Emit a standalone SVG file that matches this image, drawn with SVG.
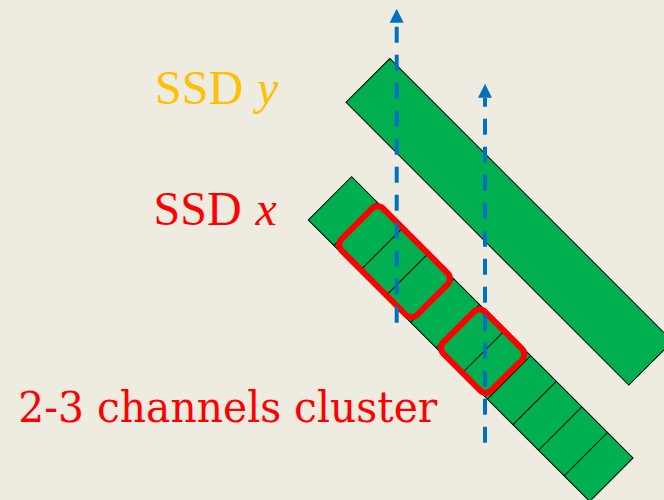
<svg xmlns="http://www.w3.org/2000/svg" width="664" height="500" viewBox="0 0 664 500">
  <defs>
    <style>
      .ssd { fill: #00B050; stroke: #000000; stroke-width: 1; }
      .div { stroke: #000000; stroke-width: 1; fill: none; }
      .cluster { fill: none; stroke: #FF0000; stroke-width: 6; }
      .flow { stroke: #0070C0; stroke-width: 4; stroke-dasharray: 16 12; fill: none; }
      .lbl { font-family: "Liberation Serif", "Times New Roman", serif; font-size: 48px; }
    </style>
    <marker id="arrow" markerUnits="userSpaceOnUse" markerWidth="14" markerHeight="14" viewBox="0 0 14 14" refX="0" refY="7" orient="auto">
      <path d="M0,0 L14,7 L0,14 z" fill="#0070C0"/>
    </marker>
  </defs>
  <rect x="0" y="0" width="664" height="500" fill="#EEECE1"/>

  <g id="ssd-y">
    <rect class="ssd" transform="translate(346,102.3) rotate(45)" x="0" y="-62" width="400" height="62"/>
  </g>

  <g id="ssd-x" transform="translate(308.3,220) rotate(45)">
    <rect class="ssd" x="0" y="-61.3" width="398" height="61.3"/>
    <path class="div" d="M36.2,-61.3V0 M72.4,-61.3V0 M108.5,-61.3V0 M144.7,-61.3V0 M180.9,-61.3V0 M217.1,-61.3V0 M253.3,-61.3V0 M289.5,-61.3V0 M325.6,-61.3V0 M361.8,-61.3V0"/>
  </g>

  <g id="cluster-1">
    <rect class="cluster" transform="translate(308.3,220) rotate(45)" x="37" y="-61" width="107" height="59" rx="8"/>
  </g>
  <g id="cluster-2">
    <rect class="cluster" transform="translate(308.3,220) rotate(45)" x="182" y="-60" width="68" height="59" rx="8"/>
  </g>

  <g id="connectors">
    <line class="flow" x1="396.7" y1="322.7" x2="396.7" y2="22.7" marker-end="url(#arrow)"/>
    <line class="flow" x1="485" y1="442.7" x2="485" y2="97.7" marker-end="url(#arrow)"/>
  </g>

  <g id="label-ssd-y">
    <text class="lbl" x="155" y="104" fill="#FFC000">SSD <tspan font-style="italic" dx="2">y</tspan></text>
  </g>
  <g id="label-ssd-x">
    <text class="lbl" x="153.5" y="224.5" fill="#FF0000">SSD <tspan font-style="italic" dx="2">x</tspan></text>
  </g>
  <g id="label-cluster">
    <text x="18.3" y="421.7" fill="#FF0000" font-family="'DejaVu Serif', Georgia, serif" font-size="42" textLength="419" lengthAdjust="spacingAndGlyphs">2-3 channels cluster</text>
  </g>
</svg>
